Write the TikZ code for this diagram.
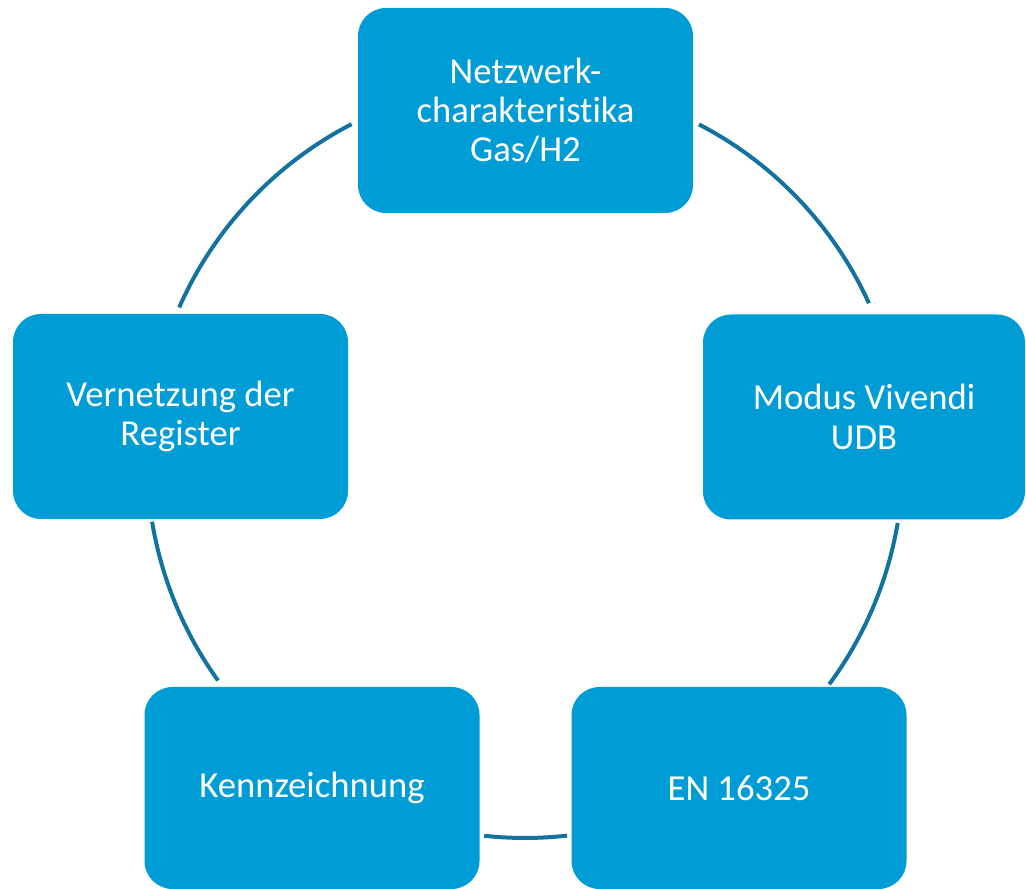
\documentclass[tikz,border=0pt]{standalone}
\usepackage{fontspec}
\setmainfont{Carlito}[Ligatures={NoCommon}]
\definecolor{boxblue}{RGB}{0,156,214}
\definecolor{arcblue}{RGB}{20,114,158}
\begin{document}
\begin{tikzpicture}[x=0.75pt,y=0.75pt,
  stepbox/.style={draw=none, fill=boxblue, rounded corners=21pt, text=white,
    align=center, inner sep=0pt, minimum width=251.25pt, minimum height=153.75pt,
    font=\fontsize{27.5pt}{29.5pt}\selectfont},
  ring/.style={draw=arcblue, line width=3pt}]
\useasboundingbox (0,0) rectangle (1026,889);
\coordinate (c) at (525,429);
% arcs
\draw[ring] (c) ++(117.3:283.5pt) arc[start angle=117.3, end angle=156.2, radius=283.5pt];
\draw[ring] (c) ++(189.4:283.5pt) arc[start angle=189.4, end angle=215.7, radius=283.5pt];
\draw[ring] (c) ++(263.8:283.5pt) arc[start angle=263.8, end angle=276.4, radius=283.5pt];
\draw[ring] (c) ++(323.6:283.5pt) arc[start angle=323.6, end angle=350.4, radius=283.5pt];
\draw[ring] (c) ++(24.5:283.5pt) arc[start angle=24.5, end angle=62.6, radius=283.5pt];
% boxes
\node[stepbox] (top) at (525.5,778.5) {Netzwerk-\\charakteristika\\Gas/H2};
\node[stepbox, minimum width=241.5pt] (right) at (864,472) {Modus Vivendi\\UDB};
\node[stepbox] (left) at (180.5,472.5) {Vernetzung der\\Register};
\node[stepbox, minimum height=151.5pt] (bl) at (312,101) {Kennzeichnung};
\node[stepbox, minimum height=151.5pt] (br) at (739,101) {EN 16325};
\end{tikzpicture}
\end{document}
